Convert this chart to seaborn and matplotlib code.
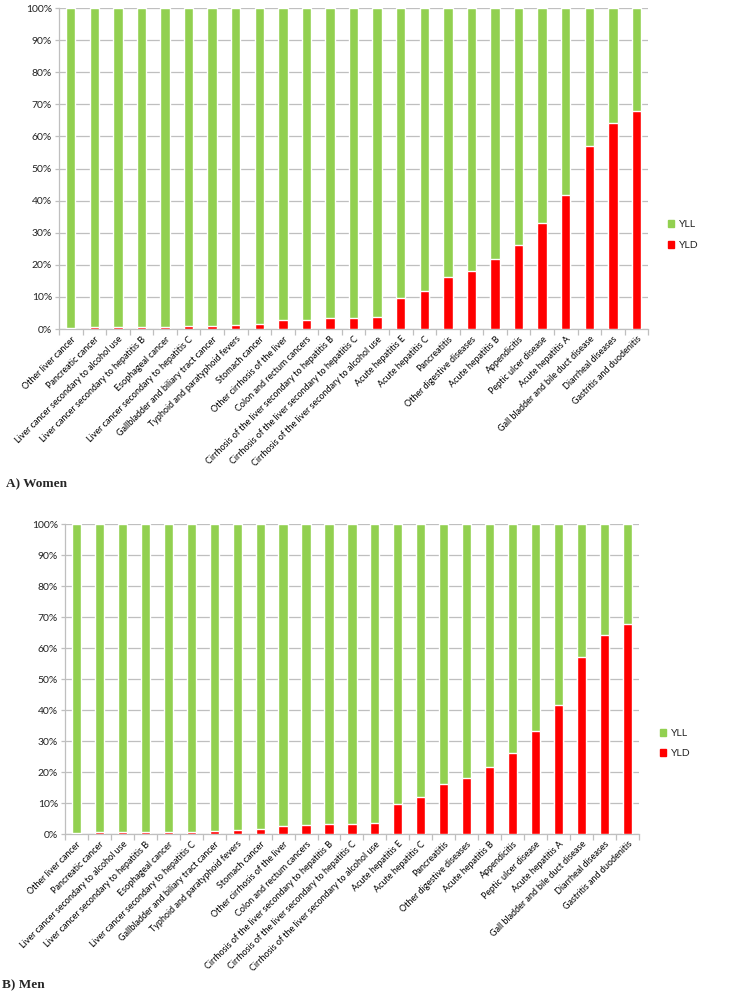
import matplotlib
matplotlib.use("Agg")
import matplotlib.pyplot as plt
from matplotlib.patches import Patch
from matplotlib.ticker import FixedLocator
import numpy as np
import pandas as pd
import seaborn as sns

categories = [
    "Other liver cancer", "Pancreatic cancer", "Liver cancer secondary to alcohol use",
    "Liver cancer secondary to hepatitis B", "Esophageal cancer",
    "Liver cancer secondary to hepatitis C", "Gallbladder and biliary tract cancer",
    "Typhoid and paratyphoid fevers", "Stomach cancer", "Other cirrhosis of the liver",
    "Colon and rectum cancers", "Cirrhosis of the liver secondary to hepatitis B",
    "Cirrhosis of the liver secondary to hepatitis C",
    "Cirrhosis of the liver secondary to alcohol use", "Acute hepatitis E",
    "Acute hepatitis C", "Pancreatitis", "Other digestive diseases", "Acute hepatitis B",
    "Appendicitis", "Peptic ulcer disease", "Acute hepatitis A",
    "Gall bladder and bile duct disease", "Diarrheal diseases", "Gastritis and duodenitis",
]
yld_women = [0.4, 0.5, 0.6, 0.6, 0.7, 0.8, 1.0, 1.4, 1.6, 2.7, 2.8, 3.3, 3.4, 3.6,
             9.8, 11.8, 16.2, 18.1, 21.8, 26.3, 33.1, 41.7, 57.1, 64.3, 67.8]
yld_men = [0.4, 0.5, 0.6, 0.6, 0.7, 0.8, 1.0, 1.4, 1.6, 2.7, 2.8, 3.3, 3.4, 3.6,
           9.8, 11.9, 16.1, 18.2, 21.7, 26.3, 33.2, 41.7, 57.1, 64.3, 67.8]
yticks = [0, 10, 20, 30, 40, 50, 60, 70, 80, 90, 100]
panel_titles = ["A) Women", "B) Men"]

GREEN = "#92D050"
RED = "#FF0000"
GRID = "#BFBFBF"

sns.set_theme(style="white")
plt.rcParams["font.family"] = ["Lato", "DejaVu Sans"]

fig = plt.figure(figsize=(7.32, 10.05), dpi=100)

axes_rects = [
    [0.0806, 0.6726, 0.805, 0.3194],
    [0.0888, 0.1701, 0.784, 0.3085],
]
legend_pos = [(0.900, 0.766), (0.889, 0.260)]
title_pos = [(0.008, 0.518), (0.003, 0.020)]

for k, yld in enumerate([yld_women, yld_men]):
    df = pd.DataFrame({"cat": categories, "YLD": yld})
    df["YLL"] = 100 - df["YLD"]
    df["total"] = df["YLD"] + df["YLL"]
    ax = fig.add_axes(axes_rects[k])
    sns.barplot(data=df, x="cat", y="total", color=GREEN, width=0.4,
                saturation=1, ax=ax, zorder=3)
    sns.barplot(data=df, x="cat", y="YLD", color=RED, width=0.4,
                saturation=1, ax=ax, zorder=4)
    ax.set_xlim(-0.5, len(categories) - 0.5)
    ax.set_ylim(0, 100)
    ax.set_yticks(yticks)
    ax.set_yticklabels([f"{v}%" for v in yticks], fontsize=7.5, color="#222222")
    ax.yaxis.grid(True, color=GRID, linewidth=0.9, zorder=0)
    ax.set_axisbelow(True)
    ax.set_xlabel("")
    ax.set_ylabel("")
    ax.set_xticks(range(len(categories)))
    ax.set_xticklabels(categories, rotation=45, ha="right", rotation_mode="anchor",
                       fontsize=6.5, color="#000000")
    ax.xaxis.set_minor_locator(FixedLocator(np.arange(-0.5, len(categories), 1.0)))
    ax.tick_params(axis="x", which="major", length=0, pad=4)
    ax.tick_params(axis="x", which="minor", length=4, color=GRID, width=0.9,
                   direction="out", bottom=True)
    ax.tick_params(axis="y", which="major", length=3, color=GRID, width=0.9,
                   direction="out", left=True, pad=2)
    for s in ["top", "right"]:
        ax.spines[s].set_visible(False)
    for s in ["left", "bottom"]:
        ax.spines[s].set_color(GRID)
        ax.spines[s].set_linewidth(0.9)
    handles = [Patch(facecolor=GREEN, edgecolor=GREEN, label="YLL"),
               Patch(facecolor=RED, edgecolor=RED, label="YLD")]
    fig.legend(handles=handles, loc="center left", bbox_to_anchor=legend_pos[k],
               frameon=False, fontsize=7.5, handlelength=0.6, handleheight=0.6,
               handletextpad=0.4, labelspacing=1.1)
    fig.text(title_pos[k][0], title_pos[k][1], panel_titles[k],
             family="Liberation Serif", fontweight="bold", fontsize=9.5,
             va="center", ha="left")

fig.savefig("out.png", dpi=100)
